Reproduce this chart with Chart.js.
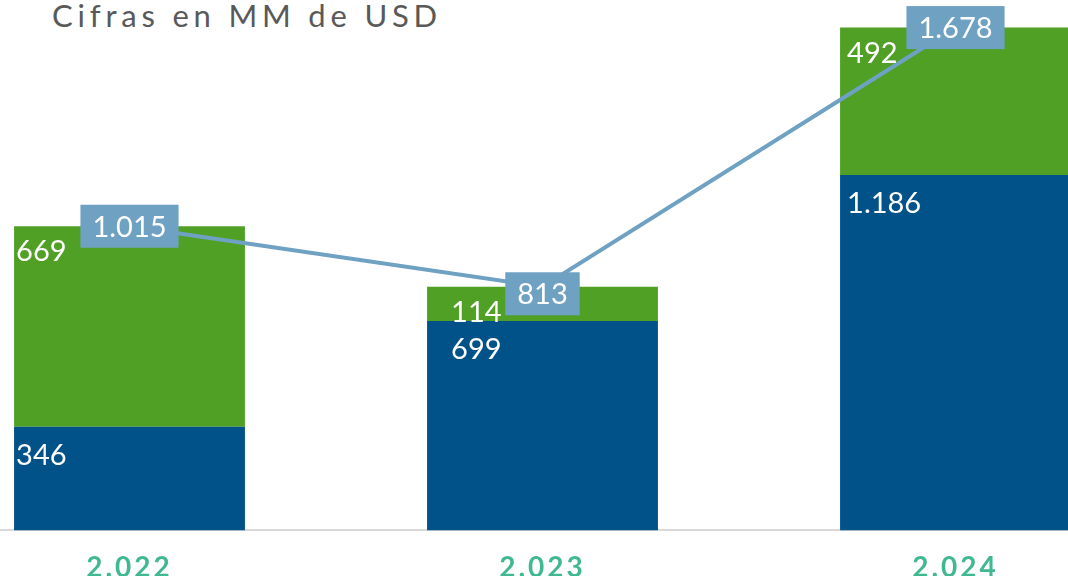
<!DOCTYPE html>
<html>
<head>
<meta charset="utf-8">
<script src="https://cdn.jsdelivr.net/npm/chart.js@4"></script>
<style>
    html, body { margin: 0; padding: 0; background: #fff; overflow: hidden; width: 1068px; height: 576px; }
    #title {
        position: absolute; left: 52px; top: -4px;
        font-family: Lato, sans-serif; font-size: 31px; color: #595959;
        letter-spacing: 4.8px; white-space: nowrap;
    }
    #wrap { position: absolute; left: -77px; top: 0; width: 1239px; height: 606px; }
</style>
</head>
<body>
<div id="title">Cifras en MM de USD</div>
<div id="wrap"><canvas id="chart"></canvas></div>
<script>
const years = ['2.022', '2.023', '2.024'];
const baseValues = [346, 699, 1186];
const topValues = [669, 114, 492];
const totals = [1015, 813, 1678];

const blue = '#005288';
const green = '#50a026';
const lineBlue = '#6fa1c3';

// small nudges so labels sit where the original put them
const labelInset = [2, 24, 7];
const boxNudgeY = [0, 7, 0];

function fmt(v) {
    return v.toLocaleString('es-ES', { useGrouping: 'always' });
}

const labelPlugin = {
    id: 'labels',
    beforeDraw(chart) {
        chart.ctx.letterSpacing = '3px';
    },
    beforeDatasetsDraw(chart) {
        chart.ctx.letterSpacing = '0px';
    },
    afterDatasetsDraw(chart) {
        const ctx = chart.ctx;
        ctx.save();
        ctx.font = '29px Lato, sans-serif';
        ctx.textBaseline = 'alphabetic';
        ctx.textAlign = 'left';
        ctx.fillStyle = '#fff';

        const baseMeta = chart.getDatasetMeta(0);
        const topMeta = chart.getDatasetMeta(1);
        baseMeta.data.forEach((bar, i) => {
            const left = bar.x - bar.width / 2 + labelInset[i];
            ctx.fillText(fmt(baseValues[i]), left, bar.y + 38);
            const t = topMeta.data[i];
            ctx.fillText(fmt(topValues[i]), left, t.y + 35);
        });

        const lineMeta = chart.getDatasetMeta(2);
        ctx.textAlign = 'center';
        ctx.textBaseline = 'middle';
        lineMeta.data.forEach((pt, i) => {
            const txt = fmt(totals[i]);
            const w = ctx.measureText(txt).width + 24;
            const h = 43;
            const cy = pt.y + boxNudgeY[i];
            ctx.fillStyle = lineBlue;
            ctx.fillRect(pt.x - w / 2, cy - h / 2, w, h);
            ctx.fillStyle = '#fff';
            ctx.fillText(txt, pt.x, cy + 1);
        });
        ctx.restore();
    }
};

new Chart(document.getElementById('chart'), {
    data: {
        labels: years,
        datasets: [
            {
                type: 'bar',
                data: baseValues,
                backgroundColor: blue,
                categoryPercentage: 1,
                barPercentage: 0.559,
                order: 2
            },
            {
                type: 'bar',
                data: topValues,
                backgroundColor: green,
                categoryPercentage: 1,
                barPercentage: 0.559,
                order: 2
            },
            {
                type: 'line',
                data: totals,
                stack: 'total',
                borderColor: lineBlue,
                borderWidth: 4,
                pointRadius: 0,
                tension: 0,
                order: 1
            }
        ]
    },
    options: {
        responsive: true,
        maintainAspectRatio: false,
        animation: false,
        layout: { padding: 0, autoPadding: false },
        plugins: {
            legend: { display: false },
            tooltip: { enabled: false }
        },
        scales: {
            x: {
                stacked: true,
                grid: { display: false, drawTicks: false },
                border: { display: true, color: '#d9d9d9', width: 2 },
                ticks: {
                    color: '#40b890',
                    padding: 21,
                    font: { family: 'Lato, sans-serif', size: 28, weight: 'bold' }
                }
            },
            y: {
                stacked: true,
                display: false,
                min: 0,
                max: 1770
            }
        }
    },
    plugins: [labelPlugin]
});
</script>
</body>
</html>
